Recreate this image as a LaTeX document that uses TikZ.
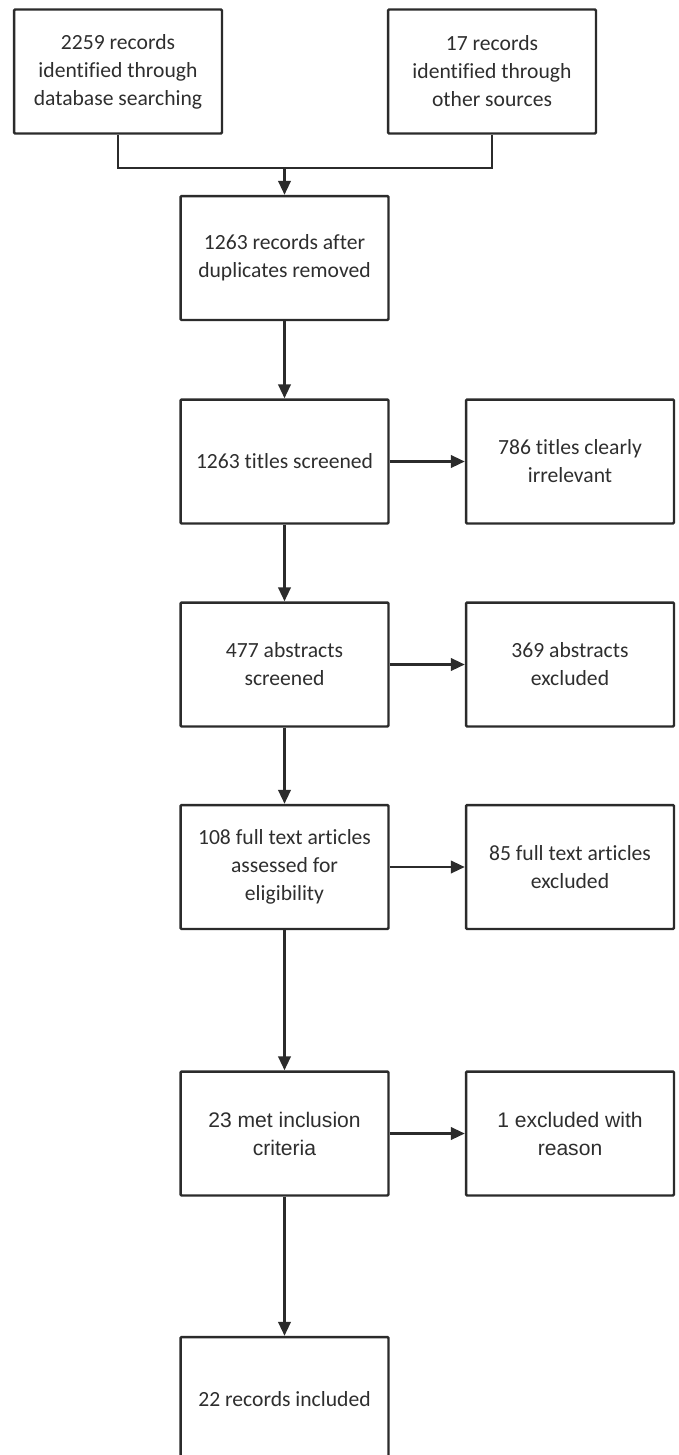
\documentclass[tikz,border=0pt]{standalone}
\usepackage{fontspec}
\setmainfont{Carlito}[RawFeature=-liga]
\newfontfamily\arialfont{Liberation Sans}
\usetikzlibrary{arrows.meta}

\definecolor{boxline}{HTML}{2B2B2B}
\definecolor{boxtext}{HTML}{2E2E2E}

\tikzset{
  flowbox/.style={draw=boxline, line width=1.4pt, rounded corners=0.6pt,
    minimum width=4.16cm, minimum height=2.48cm, inner sep=0pt,
    align=center, text=boxtext, font=\fontsize{12.3}{15.9}\selectfont},
  arialbox/.style={flowbox, font=\arialfont\fontsize{12}{15.9}\selectfont},
  flowline/.style={draw=boxline, line width=1.4pt},
  flowarrow/.style={flowline, -{Triangle[length=0.28cm, width=0.25cm]}}
}

\begin{document}
\begin{tikzpicture}[x=0.02cm, y=-0.02cm]
    \useasboundingbox (0,0) rectangle (679,1455);
    % identification
    \node[flowbox] (dbsearch) at (118,71.5) {2259 records\\identified through\\database searching};
    \node[flowbox] (othersrc) at (492,71.5) {17 records\\identified through\\other sources};
    \coordinate (merge) at (284.5,168);
    \draw[flowline] (dbsearch.south) |- (merge) -| (othersrc.south);
    % screening
    \node[flowbox] (dedup) at (284.5,258) {1263 records after\\duplicates removed};
    \node[flowbox] (titles) at (284.5,461.5) {1263 titles screened};
    \node[flowbox] (titlesout) at (570,461.5) {786 titles clearly\\irrelevant};
    \node[flowbox] (abstracts) at (284.5,664.5) {477 abstracts\\screened};
    \node[flowbox] (abstractsout) at (570,664.5) {369 abstracts\\excluded};
    % eligibility
    \node[flowbox] (fulltext) at (284.5,867) {108 full text articles\\assessed for\\eligibility};
    \node[flowbox] (fulltextout) at (570,867) {85 full text articles\\excluded};
    \node[arialbox] (criteria) at (284.5,1133.5) {23 met inclusion\\criteria};
    \node[arialbox] (criteriaout) at (570,1133.5) {1 excluded with\\reason};
    % included
    \node[flowbox] (included) at (284.5,1399) {22 records included};

    \draw[flowarrow] (merge) -- (dedup);
    \draw[flowarrow] (dedup) -- (titles);
    \draw[flowarrow] (titles) -- (titlesout);
    \draw[flowarrow] (titles) -- (abstracts);
    \draw[flowarrow] (abstracts) -- (abstractsout);
    \draw[flowarrow] (abstracts) -- (fulltext);
    \draw[flowarrow] (fulltext) -- (fulltextout);
    \draw[flowarrow] (fulltext) -- (criteria);
    \draw[flowarrow] (criteria) -- (criteriaout);
    \draw[flowarrow] (criteria) -- (included);
\end{tikzpicture}
\end{document}
